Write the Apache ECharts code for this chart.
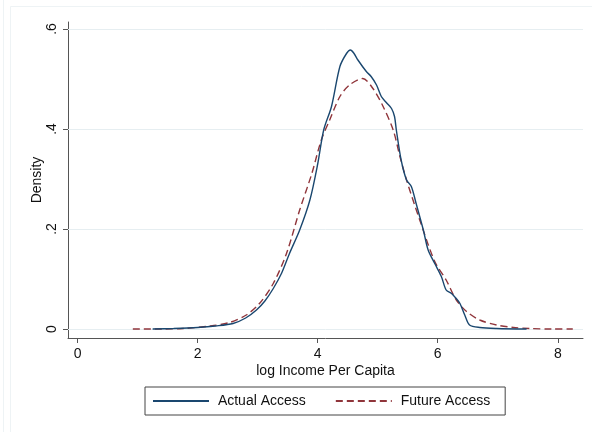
<!DOCTYPE html>
<html>
<head>
<meta charset="utf-8">
<script src="https://cdn.jsdelivr.net/npm/echarts@6/dist/echarts.min.js"></script>
<style>html,body{margin:0;padding:0;background:#fff;}#c{width:592px;height:432px;}</style>
</head>
<body>
<div id="c"></div>
<script>
var actualX = [1.25,1.6,2.0,2.3,2.59,2.8,2.98,3.12,3.26,3.4,3.53,3.7,3.87,4.0,4.1,4.23,4.37,4.48,4.545,4.6,4.67,4.81,4.89,4.98,5.06,5.15,5.23,5.28,5.31,5.39,5.48,5.56,5.64,5.76,5.84,5.95,6.06,6.14,6.23,6.30,6.37,6.45,6.53,6.7,6.98,7.48];
var actualY = [0,0.001,0.003,0.006,0.011,0.022,0.038,0.056,0.081,0.112,0.151,0.198,0.258,0.33,0.398,0.445,0.525,0.551,0.558,0.552,0.538,0.515,0.505,0.488,0.465,0.452,0.441,0.425,0.398,0.338,0.298,0.285,0.251,0.198,0.158,0.131,0.105,0.078,0.071,0.062,0.051,0.028,0.008,0.003,0.001,0];
var futureX = [0.92,1.4,1.76,2.2,2.53,2.81,3.03,3.26,3.48,3.7,3.9,4.06,4.2,4.37,4.53,4.75,4.92,5.09,5.26,5.37,5.48,5.7,5.95,6.14,6.31,6.48,6.7,6.98,7.26,7.53,7.9,8.25];
var futureY = [0,0,0.001,0.006,0.013,0.028,0.051,0.091,0.151,0.238,0.31,0.378,0.418,0.465,0.488,0.501,0.481,0.445,0.397,0.345,0.298,0.218,0.135,0.098,0.058,0.035,0.018,0.008,0.003,0.001,0,0];
var xTicks = [0,2,4,6,8];
var yTicks = [0,0.2,0.4,0.6];
var yTickLabels = ['0','.2','.4','.6'];
var seriesNames = ['Actual Access','Future Access'];

function pairs(xs, ys){ return xs.map(function(x,i){ return [x, ys[i]]; }); }

var chart = echarts.init(document.getElementById('c'), null, {renderer:'canvas'});
var font = 'Liberation Sans, Arial, sans-serif';
chart.setOption({
  backgroundColor: '#ffffff',
  animation: false,
  textStyle: {fontFamily: font},
  graphic: [
    {type:'line', shape:{x1:3.5,y1:0,x2:3.5,y2:432}, style:{stroke:'#eef3f5', lineWidth:1}, silent:true},
    {type:'line', shape:{x1:10.5,y1:6.5,x2:10.5,y2:432}, style:{stroke:'#eef3f5', lineWidth:1}, silent:true},
    {type:'line', shape:{x1:10.5,y1:6.5,x2:592,y2:6.5}, style:{stroke:'#eef3f5', lineWidth:1}, silent:true}
  ],
  grid: {left: 68, top: 22, right: 9, bottom: 94, containLabel: false},
  legend: {
    left: 145, top: 387,
    padding: [7, 15, 7, 7],
    borderColor: '#444', borderWidth: 1,
    itemWidth: 56, itemHeight: 14, itemGap: 29,
    itemStyle: {opacity: 0},
    formatter: function(n){ return ' ' + n; },
    textStyle: {fontSize: 14, color: '#111', fontFamily: font},
    data: seriesNames
  },
  xAxis: {
    type: 'value', min: -0.16, max: 8.42,
    name: 'log Income Per Capita', nameLocation: 'middle', nameGap: 26, nameMoveOverlap: false,
    nameTextStyle: {fontSize: 14, color: '#111', fontFamily: font},
    axisLine: {show: true, onZero: false, lineStyle: {color: '#555', width: 1}},
    axisTick: {show: true, length: 5, customValues: xTicks, lineStyle: {color: '#555'}},
    axisLabel: {customValues: xTicks, fontSize: 14, color: '#111', margin: 9},
    splitLine: {show: false}
  },
  yAxis: {
    type: 'value', min: -0.018, max: 0.614,
    name: 'Density', nameLocation: 'middle', nameGap: 24, nameMoveOverlap: false,
    nameTextStyle: {fontSize: 14, color: '#111', fontFamily: font},
    axisLine: {show: true, onZero: false, lineStyle: {color: '#555', width: 1}},
    axisTick: {show: true, length: 5, customValues: yTicks, lineStyle: {color: '#555'}},
    axisLabel: {customValues: yTicks, rotate: 90, align: 'center', verticalAlign: 'bottom', fontSize: 14, color: '#111', margin: 9,
      formatter: function(v){ var i = yTicks.indexOf(Math.round(v*10)/10); return i>=0 ? yTickLabels[i] : ''; }},
    splitLine: {show: false}
  },
  series: [
    {
      name: seriesNames[0], type: 'line', data: pairs(actualX, actualY),
      smooth: 0.3, symbol: 'none', z: 3,
      lineStyle: {color: '#1a476f', width: 1.4},
      itemStyle: {color: '#1a476f'},
      markLine: {
        silent: true, symbol: 'none', label: {show: false},
        lineStyle: {color: '#e6eef1', type: 'solid', width: 1},
        data: yTicks.map(function(v){ return {yAxis: v}; }),
        z: 1
      }
    },
    {
      name: seriesNames[1], type: 'line', data: pairs(futureX, futureY),
      smooth: 0.3, symbol: 'none', z: 2,
      lineStyle: {color: '#90353b', width: 1.4, type: [7, 4]},
      itemStyle: {color: '#90353b'}
    }
  ]
});
</script>
</body>
</html>
